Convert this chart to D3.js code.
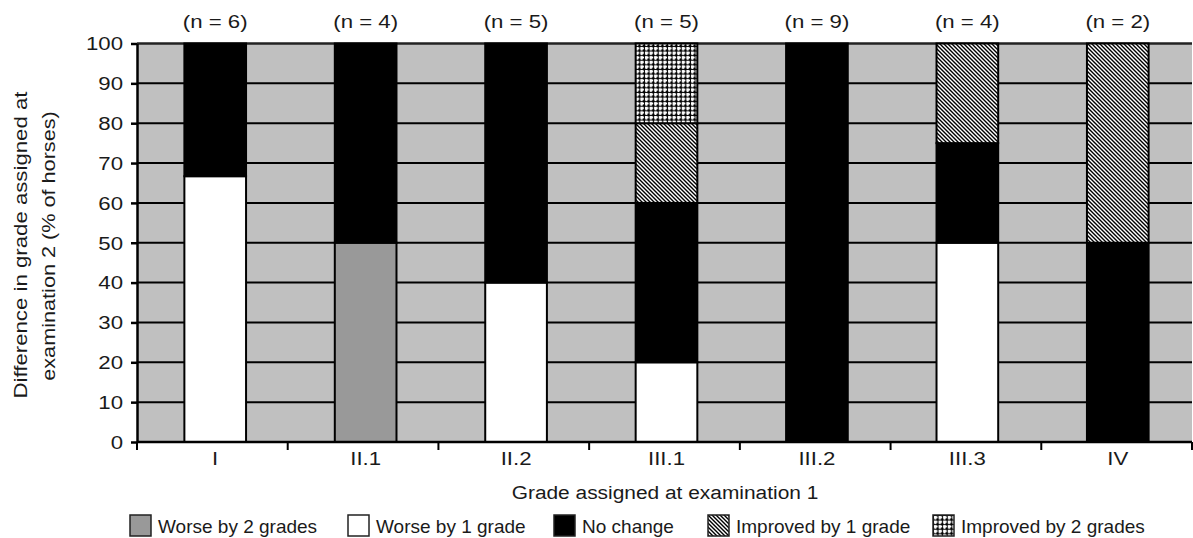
<!DOCTYPE html>
<html>
<head>
<meta charset="utf-8">
<script src="https://cdn.jsdelivr.net/npm/d3@7"></script>
<style>
  html, body { margin: 0; padding: 0; background: #fff; }
  svg text { font-family: "Liberation Sans", Arial, Helvetica, sans-serif; fill: #1a1a1a; }
</style>
</head>
<body>
<svg id="chart" width="1193" height="538"></svg>
<script>
// ---- data ----
const categories = ["I", "II.1", "II.2", "III.1", "III.2", "III.3", "IV"];
const nCounts = [6, 4, 5, 5, 9, 4, 2];
const worse2 = [0, 50, 0, 0, 0, 0, 0];
const worse1 = [66.7, 0, 40, 20, 0, 50, 0];
const noChange = [33.3, 50, 60, 40, 100, 25, 50];
const improved1 = [0, 0, 0, 20, 0, 25, 50];
const improved2 = [0, 0, 0, 20, 0, 0, 0];
const seriesKeys = ["worse2", "worse1", "noChange", "improved1", "improved2"];
const seriesLabels = ["Worse by 2 grades", "Worse by 1 grade", "No change", "Improved by 1 grade", "Improved by 2 grades"];
const yTicks = [0, 10, 20, 30, 40, 50, 60, 70, 80, 90, 100];

const rows = categories.map((c, i) => ({
  cat: c, worse2: worse2[i], worse1: worse1[i], noChange: noChange[i],
  improved1: improved1[i], improved2: improved2[i]
}));

const svg = d3.select("#chart");
const L = 137, R = 1192, T = 43.5, B = 442;
const SX = 1.17; // horizontal stretch of the labels

// patterns
const defs = svg.append("defs");
const pd = defs.append("pattern").attr("id", "diag").attr("patternUnits", "userSpaceOnUse")
  .attr("width", 4).attr("height", 4);
pd.append("rect").attr("width", 4).attr("height", 4).attr("fill", "#fff");
pd.append("path").attr("d", "M0,0 L4,4 M-1,3 L1,5 M3,-1 L5,1")
  .attr("stroke", "#000").attr("stroke-width", 1.4);
const pg = defs.append("pattern").attr("id", "grid").attr("patternUnits", "userSpaceOnUse")
  .attr("width", 4.6).attr("height", 4.6);
pg.append("rect").attr("width", 4.6).attr("height", 4.6).attr("fill", "#fff");
pg.append("rect").attr("x", 0).attr("y", 0).attr("width", 4.6).attr("height", 0.9).attr("fill", "#000");
pg.append("rect").attr("x", 0).attr("y", 0).attr("width", 0.9).attr("height", 4.6).attr("fill", "#000");
[[0, 0], [4.6, 0], [0, 4.6], [4.6, 4.6]].forEach(([cx, cy]) =>
  pg.append("circle").attr("cx", cx).attr("cy", cy).attr("r", 1.5).attr("fill", "#000"));

const fills = {
  worse2: "#999999", worse1: "#ffffff", noChange: "#000000",
  improved1: "url(#diag)", improved2: "url(#grid)"
};

// band scale for the category slots (axis ticks) and one for the bars
const xSlot = d3.scaleBand().domain(categories).range([L, R]).padding(0);
const x = d3.scaleBand().domain(categories).range([L + 3, R + 1]).paddingInner(0.59).paddingOuter(0.295);
const y = d3.scaleLinear().domain([0, 100]).range([B, T]);

// background
svg.append("rect").attr("x", L).attr("y", T).attr("width", R - L).attr("height", B - T).attr("fill", "#c0c0c0");

// gridlines
svg.append("g").selectAll("line").data(yTicks.filter(d => d > 0)).join("line")
  .attr("x1", L).attr("x2", R).attr("y1", d => y(d)).attr("y2", d => y(d))
  .attr("stroke", d => d === 100 ? "#222" : "#000").attr("stroke-width", d => d === 100 ? 2.5 : 2);

// bars
const stacked = d3.stack().keys(seriesKeys)(rows);
svg.append("g").selectAll("g").data(stacked).join("g")
  .attr("fill", d => fills[d.key])
  .selectAll("rect").data(d => d.filter(p => p[1] - p[0] > 0)).join("rect")
  .attr("x", d => x(d.data.cat))
  .attr("width", x.bandwidth())
  .attr("y", d => y(d[1]))
  .attr("height", d => y(d[0]) - y(d[1]))
  .attr("stroke", "#000").attr("stroke-width", 2);

// y axis (line + ticks from d3, labels drawn stretched)
const yAxis = svg.append("g").attr("transform", `translate(${L},0)`)
  .call(d3.axisLeft(y).tickValues(yTicks).tickSize(6).tickSizeOuter(0).tickFormat(""));
yAxis.select(".domain").attr("stroke", "#000").attr("stroke-width", 2.5);
yAxis.selectAll(".tick line").attr("stroke", "#000").attr("stroke-width", 2.5);
svg.append("g").selectAll("text").data(yTicks).join("text")
  .attr("transform", d => `translate(123,${y(d)}) scale(${SX},1)`)
  .attr("dy", "0.36em").attr("text-anchor", "end").attr("font-size", 19).text(d => d);

// x axis
const xAxisG = svg.append("g");
xAxisG.append("line").attr("x1", L).attr("x2", R).attr("y1", B).attr("y2", B)
  .attr("stroke", "#000").attr("stroke-width", 2.5);
const bounds = categories.map(c => xSlot(c)).concat([R]);
xAxisG.selectAll(".bt").data(bounds).join("line")
  .attr("class", "bt")
  .attr("x1", d => d).attr("x2", d => d)
  .attr("y1", B).attr("y2", B + 8).attr("stroke", "#000").attr("stroke-width", 2);
xAxisG.selectAll(".cl").data(categories).join("text")
  .attr("class", "cl")
  .attr("transform", d => `translate(${x(d) + x.bandwidth() / 2},465) scale(${SX},1)`)
  .attr("text-anchor", "middle").attr("font-size", 19).text(d => d);

// n labels
svg.append("g").selectAll("text").data(categories).join("text")
  .attr("transform", d => `translate(${x(d) + x.bandwidth() / 2},28) scale(${SX},1)`)
  .attr("text-anchor", "middle").attr("font-size", 19)
  .text((d, i) => `(n = ${nCounts[i]})`);

// axis titles
svg.append("text").attr("transform", "translate(665,499) scale(1.1,1)").attr("text-anchor", "middle")
  .attr("font-size", 19).text("Grade assigned at examination 1");
svg.append("text").attr("transform", "translate(27,245) rotate(-90) scale(1.17,1)").attr("text-anchor", "middle")
  .attr("font-size", 19).text("Difference in grade assigned at");
svg.append("text").attr("transform", "translate(55,246) rotate(-90) scale(1.14,1)").attr("text-anchor", "middle")
  .attr("font-size", 19).text("examination 2 (% of horses)");

// legend
const legendX = [130, 348, 554, 708, 933];
const lg = svg.append("g").selectAll("g").data(seriesKeys).join("g")
  .attr("transform", (d, i) => `translate(${legendX[i]},515)`);
lg.append("rect").attr("width", 21).attr("height", 21)
  .attr("fill", d => fills[d]).attr("stroke", "#222").attr("stroke-width", 1.5);
lg.append("text").attr("x", 28).attr("y", 18).attr("font-size", 19)
  .text((d, i) => seriesLabels[i]);
</script>
</body>
</html>
